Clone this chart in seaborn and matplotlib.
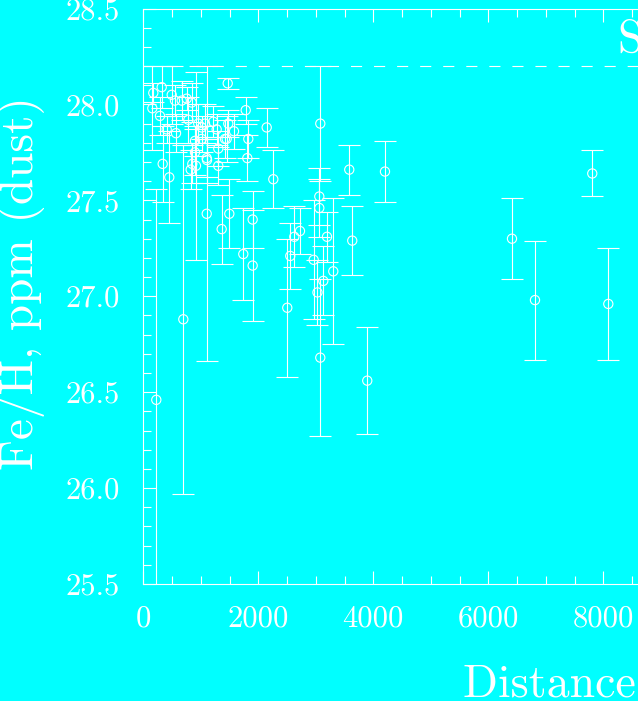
import matplotlib
matplotlib.use("Agg")
import matplotlib.pyplot as plt
import numpy as np
import pandas as pd
import seaborn as sns
from matplotlib.ticker import MultipleLocator, FormatStrFormatter

# Dust-phase iron abundance along each sight line
distance = [157, 174, 320, 290, 494, 551, 668, 755, 842, 407,
            569, 783, 956, 1073, 1217, 1016, 1276, 1421, 899, 1016,
            1468, 1478, 1577, 1450, 1304, 1103, 1304, 337, 452, 899,
            852, 916, 824, 1108, 1781, 1826, 1809, 2146, 2261, 1103,
            1496, 1363, 1902, 1902, 1739, 696, 226, 2504, 2556, 2626,
            2725, 2963, 3029, 3061, 3061, 3078, 3078, 3130, 3195, 3304,
            3582, 3634, 3895, 4203, 6412, 6812, 7808, 8087]
fe_h = [27.98, 28.06, 28.09, 27.94, 28.05, 28.02, 28.02, 28.03, 28.01, 27.87,
        27.85, 27.92, 27.90, 27.90, 27.91, 27.88, 27.87, 27.82, 27.81, 27.82,
        28.11, 27.90, 27.86, 27.82, 27.77, 27.72, 27.68, 27.69, 27.62, 27.75,
        27.69, 27.68, 27.66, 27.71, 27.97, 27.82, 27.72, 27.88, 27.61, 27.43,
        27.43, 27.35, 27.40, 27.16, 27.22, 26.88, 26.46, 26.94, 27.21, 27.31,
        27.34, 27.19, 27.02, 27.52, 27.46, 27.90, 26.68, 27.08, 27.31, 27.13,
        27.66, 27.29, 26.56, 27.65, 27.30, 26.98, 27.64, 26.96]
fe_h_err = [0.22, 0.05, 0.11, 0.10, 0.15, 0.08, 0.10, 0.06, 0.10, 0.07,
            0.10, 0.12, 0.10, 0.10, 0.08, 0.06, 0.08, 0.10, 0.08, 0.07,
            0.03, 0.07, 0.09, 0.12, 0.09, 0.10, 0.10, 0.20, 0.24, 0.12,
            0.10, 0.49, 0.10, 0.12, 0.07, 0.10, 0.12, 0.10, 0.15, 0.77,
            0.18, 0.18, 0.15, 0.29, 0.24, 0.91, 1.10, 0.36, 0.17, 0.16,
            0.12, 0.31, 0.17, 0.15, 0.15, 0.30, 0.41, 0.18, 0.13, 0.38,
            0.13, 0.18, 0.28, 0.16, 0.21, 0.31, 0.12, 0.29]

reference_level = 28.2
x_limits = (0, 10000)
y_limits = (25.5, 28.5)

CYAN = "#00ffff"
WHITE = "#ffffff"

sns.set_style("ticks")
plt.rcParams.update({
    "axes.formatter.use_mathtext": True,
    "lines.scale_dashes": False,
    "mathtext.fontset": "cm",
})
plt.rcParams["font.family"] = ["cmr10", "DejaVu Serif"]

df = pd.DataFrame({"distance": distance, "fe_h": fe_h, "err": fe_h_err})

fig = plt.figure(figsize=(6.38, 7.01), dpi=100, facecolor=CYAN)
ax = fig.add_axes([143.3 / 638, 117 / 701, 575 / 638, 575.5 / 701])
ax.set_facecolor(CYAN)

ax.errorbar(df["distance"], df["fe_h"], yerr=df["err"], fmt="none",
            ecolor=WHITE, elinewidth=0.8, capsize=8, capthick=0.8, zorder=2)
sns.scatterplot(data=df, x="distance", y="fe_h", ax=ax, marker="o", s=44,
                facecolors="none", edgecolors=WHITE, linewidth=0.8, zorder=3)

ax.axhline(reference_level, color=WHITE, lw=0.8, ls=(0, (8.0, 8.6)), zorder=1)

ax.set_xlim(*x_limits)
ax.set_ylim(*y_limits)
ax.xaxis.set_major_locator(MultipleLocator(2000))
ax.xaxis.set_minor_locator(MultipleLocator(500))
ax.yaxis.set_major_locator(MultipleLocator(0.5))
ax.yaxis.set_minor_locator(MultipleLocator(0.1))
ax.yaxis.set_major_formatter(FormatStrFormatter("%.1f"))
ax.xaxis.set_major_formatter(FormatStrFormatter("%d"))

for side in ax.spines.values():
    side.set_color(WHITE)
    side.set_linewidth(0.8)

ax.tick_params(which="both", direction="in", top=True, right=True,
               colors=WHITE, width=0.8, labelsize=22)
ax.tick_params(which="major", length=9.4)
ax.tick_params(which="minor", length=5.8)
ax.tick_params(axis="y", pad=17)
ax.tick_params(axis="x", pad=15)

ax.set_xlabel("")
ax.set_ylabel("Fe/H, ppm (dust)", fontsize=34, color=WHITE, va="center")
ax.yaxis.set_label_coords((22 - 143.3) / 575, (584 - 283.5) / 575.5)

fig.text(463 / 638, 1 - 697 / 701, "Distance (pc)", ha="left", va="baseline",
         fontsize=33, color=WHITE)
fig.text(617 / 638, 1 - 51.5 / 701, "Sun", ha="left", va="baseline",
         fontsize=33, color=WHITE)

fig.savefig("out.png", dpi=100, facecolor=CYAN)
